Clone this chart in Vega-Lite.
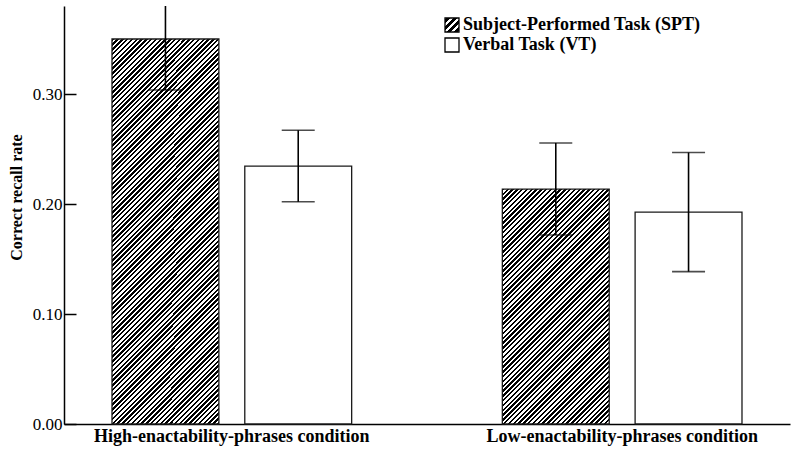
{
"$schema": "https://vega.github.io/schema/vega-lite/v6.json",
"width": 726, "height": 418,
"autosize": {"type": "none"},
"padding": {"left": 64, "top": 6, "right": 2, "bottom": 25},
"background": "white",
"config": {"view": {"stroke": null}, "font": "Liberation Serif"},
"params": [{"name": "hs", "value": [
{"offset":0,"color":"rgba(0,0,0,0)"},{"offset":0,"color":"#000"},
{"offset":0.03125,"color":"#000"},{"offset":0.03125,"color":"#fff"},{"offset":0.0625,"color":"#fff"},{"offset":0.0625,"color":"#000"},
{"offset":0.09375,"color":"#000"},{"offset":0.09375,"color":"#fff"},{"offset":0.125,"color":"#fff"},{"offset":0.125,"color":"#000"},
{"offset":0.15625,"color":"#000"},{"offset":0.15625,"color":"#fff"},{"offset":0.1875,"color":"#fff"},{"offset":0.1875,"color":"#000"},
{"offset":0.21875,"color":"#000"},{"offset":0.21875,"color":"#fff"},{"offset":0.25,"color":"#fff"},{"offset":0.25,"color":"#000"},
{"offset":0.28125,"color":"#000"},{"offset":0.28125,"color":"#fff"},{"offset":0.3125,"color":"#fff"},{"offset":0.3125,"color":"#000"},
{"offset":0.34375,"color":"#000"},{"offset":0.34375,"color":"#fff"},{"offset":0.375,"color":"#fff"},{"offset":0.375,"color":"#000"},
{"offset":0.40625,"color":"#000"},{"offset":0.40625,"color":"#fff"},{"offset":0.4375,"color":"#fff"},{"offset":0.4375,"color":"#000"},
{"offset":0.46875,"color":"#000"},{"offset":0.46875,"color":"#fff"},{"offset":0.5,"color":"#fff"},{"offset":0.5,"color":"#000"},
{"offset":0.53125,"color":"#000"},{"offset":0.53125,"color":"#fff"},{"offset":0.5625,"color":"#fff"},{"offset":0.5625,"color":"#000"},
{"offset":0.59375,"color":"#000"},{"offset":0.59375,"color":"#fff"},{"offset":0.625,"color":"#fff"},{"offset":0.625,"color":"#000"},
{"offset":0.65625,"color":"#000"},{"offset":0.65625,"color":"#fff"},{"offset":0.6875,"color":"#fff"},{"offset":0.6875,"color":"#000"},
{"offset":0.71875,"color":"#000"},{"offset":0.71875,"color":"#fff"},{"offset":0.75,"color":"#fff"},{"offset":0.75,"color":"#000"},
{"offset":0.78125,"color":"#000"},{"offset":0.78125,"color":"#fff"},{"offset":0.8125,"color":"#fff"},{"offset":0.8125,"color":"#000"},
{"offset":0.84375,"color":"#000"},{"offset":0.84375,"color":"#fff"},{"offset":0.875,"color":"#fff"},{"offset":0.875,"color":"#000"},
{"offset":0.90625,"color":"#000"},{"offset":0.90625,"color":"#fff"},{"offset":0.9375,"color":"#fff"},{"offset":0.9375,"color":"#000"},
{"offset":0.96875,"color":"#000"},{"offset":0.96875,"color":"#fff"},{"offset":1,"color":"#fff"},{"offset":1,"color":"rgba(0,0,0,0)"}
]},
{"name": "ls", "value": [
{"offset":0,"color":"#fff"},{"offset":0.07,"color":"#fff"},{"offset":0.07,"color":"#000"},{"offset":0.18,"color":"#000"},{"offset":0.18,"color":"#fff"},
{"offset":0.32,"color":"#fff"},{"offset":0.32,"color":"#000"},{"offset":0.43,"color":"#000"},{"offset":0.43,"color":"#fff"},
{"offset":0.57,"color":"#fff"},{"offset":0.57,"color":"#000"},{"offset":0.68,"color":"#000"},{"offset":0.68,"color":"#fff"},
{"offset":0.82,"color":"#fff"},{"offset":0.82,"color":"#000"},{"offset":0.93,"color":"#000"},{"offset":0.93,"color":"#fff"},{"offset":1,"color":"#fff"}
]}],
"data": {"values": [
{"cond": "High-enactability-phrases condition", "task": "Subject-Performed Task (SPT)", "rate": 0.350, "lo": 0.3036, "hi": 0.3964},
{"cond": "High-enactability-phrases condition", "task": "Verbal Task (VT)", "rate": 0.2345, "lo": 0.2020, "hi": 0.2670},
{"cond": "Low-enactability-phrases condition", "task": "Subject-Performed Task (SPT)", "rate": 0.2136, "lo": 0.1718, "hi": 0.2555},
{"cond": "Low-enactability-phrases condition", "task": "Verbal Task (VT)", "rate": 0.1927, "lo": 0.1385, "hi": 0.2468}
]},
"encoding": {
"x": {"field": "cond", "type": "nominal", "sort": null,
"scale": {"paddingInner": 0.386, "paddingOuter": 0.123},
"axis": {"title": null, "labelAngle": 0, "ticks": false, "tickSize": 0, "domainColor": "#000", "domainWidth": 1.5, "labelFont": "Liberation Serif", "labelFontSize": 18, "labelFontWeight": "bold", "labelColor": "#000", "labelPadding": 3, "labelLimit": 500}},
"xOffset": {"field": "task", "type": "nominal", "sort": null,
"scale": {"domain": ["Subject-Performed Task (SPT)", "Verbal Task (VT)"], "paddingInner": 0.195, "paddingOuter": 0}},
"y": {"field": "rate", "type": "quantitative", "title": "Correct recall rate"}
},
"layer": [
{"mark": {"type": "bar", "stroke": null},
"encoding": {
"y": {"field": "rate", "type": "quantitative", "scale": {"domain": [0, 0.38], "nice": false},
"axis": {"title": "Correct recall rate", "values": [0, 0.1, 0.2, 0.3], "format": ".2f", "grid": false, "domainColor": "#000", "domainWidth": 1.5, "tickColor": "#000", "tickWidth": 1.5, "tickSize": -12, "labelPadding": 14, "labelFont": "Liberation Serif", "labelFontSize": 17, "labelColor": "#000", "titleFont": "Liberation Serif", "titleFontSize": 16, "titleFontWeight": "bold", "titleColor": "#000", "titleX": -40, "titleY": 191}},
"fill": {"condition": {"test": "datum.task === 'Subject-Performed Task (SPT)'", "value": "#ffffff"},
"field": "task", "type": "nominal",
"scale": {"domain": ["Subject-Performed Task (SPT)", "Verbal Task (VT)"], "range": [{"expr": "{gradient: 'linear', x1: 0, y1: 0, x2: 1, y2: 1, stops: ls}"}, "#ffffff"]},
"legend": {"title": null, "orient": "none", "legendX": 379, "legendY": 10, "padding": 0, "rowPadding": 0,
"symbolType": "square", "symbolSize": 196, "symbolStrokeColor": "#000", "symbolStrokeWidth": 1.3,
"labelFont": "Liberation Serif", "labelFontSize": 18, "labelFontWeight": "bold", "labelColor": "#000", "labelOffset": 2, "labelLimit": 500}
}
}},
{"transform": [{"filter": "datum.task === 'Subject-Performed Task (SPT)' && datum.cond === 'High-enactability-phrases condition'"}],
"layer": [
{"mark": {"type": "bar", "stroke": null, "fill": {"expr": "{gradient: 'linear', x1: 0, y1: 0, x2: 0.051424, y2: 0.185204, stops: hs}"}}},
{"mark": {"type": "bar", "stroke": null, "fill": {"expr": "{gradient: 'linear', x1: 0.156129, y1: 0.156129, x2: 0.207553, y2: 0.341333, stops: hs}"}}},
{"mark": {"type": "bar", "stroke": null, "fill": {"expr": "{gradient: 'linear', x1: 0.312258, y1: 0.312258, x2: 0.363682, y2: 0.497462, stops: hs}"}}},
{"mark": {"type": "bar", "stroke": null, "fill": {"expr": "{gradient: 'linear', x1: 0.468387, y1: 0.468387, x2: 0.519811, y2: 0.653591, stops: hs}"}}},
{"mark": {"type": "bar", "stroke": null, "fill": {"expr": "{gradient: 'linear', x1: 0.624516, y1: 0.624516, x2: 0.67594, y2: 0.80972, stops: hs}"}}},
{"mark": {"type": "bar", "stroke": null, "fill": {"expr": "{gradient: 'linear', x1: 0.780645, y1: 0.780645, x2: 0.832069, y2: 0.965849, stops: hs}"}}},
{"mark": {"type": "bar", "stroke": null, "fill": {"expr": "{gradient: 'linear', x1: 0.936774, y1: 0.936774, x2: 0.988198, y2: 1.121978, stops: hs}"}}}
]},
{"transform": [{"filter": "datum.task === 'Subject-Performed Task (SPT)' && datum.cond === 'Low-enactability-phrases condition'"}],
"layer": [
{"mark": {"type": "bar", "stroke": null, "fill": {"expr": "{gradient: 'linear', x1: 0, y1: 0, x2: 0.12321, y2: 0.270808, stops: hs}"}}},
{"mark": {"type": "bar", "stroke": null, "fill": {"expr": "{gradient: 'linear', x1: 0.224653, y1: 0.224653, x2: 0.347863, y2: 0.495461, stops: hs}"}}},
{"mark": {"type": "bar", "stroke": null, "fill": {"expr": "{gradient: 'linear', x1: 0.449306, y1: 0.449306, x2: 0.572516, y2: 0.720114, stops: hs}"}}},
{"mark": {"type": "bar", "stroke": null, "fill": {"expr": "{gradient: 'linear', x1: 0.673959, y1: 0.673959, x2: 0.797169, y2: 0.944767, stops: hs}"}}},
{"mark": {"type": "bar", "stroke": null, "fill": {"expr": "{gradient: 'linear', x1: 0.898612, y1: 0.898612, x2: 1.021822, y2: 1.16942, stops: hs}"}}}
]},
{"mark": {"type": "bar", "fill": "transparent", "stroke": "#1a1a1a", "strokeWidth": 1.3}},
{"mark": {"type": "rule", "clip": true, "strokeWidth": 1.6, "color": "#000"},
"encoding": {"y": {"field": "lo", "type": "quantitative", "title": "Correct recall rate"}, "y2": {"field": "hi"}}},
{"mark": {"type": "tick", "clip": true, "size": 33, "thickness": 1.6, "color": "#000"},
"encoding": {"y": {"field": "lo", "type": "quantitative", "title": "Correct recall rate"}}},
{"mark": {"type": "tick", "clip": true, "size": 33, "thickness": 1.6, "color": "#000"},
"encoding": {"y": {"field": "hi", "type": "quantitative", "title": "Correct recall rate"}}}
]
}
